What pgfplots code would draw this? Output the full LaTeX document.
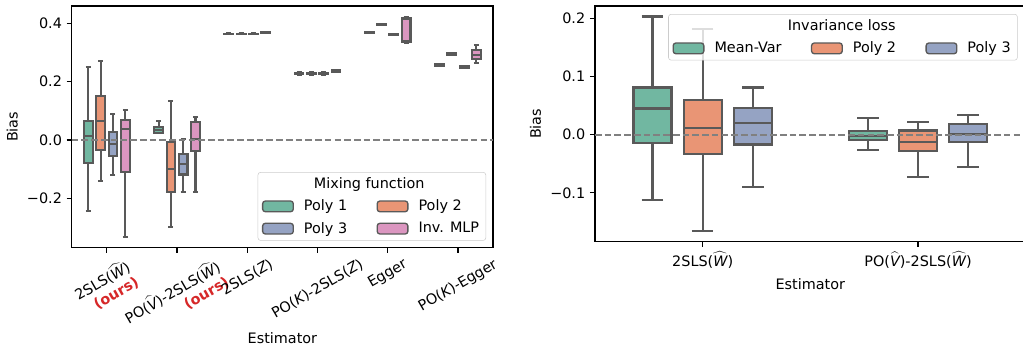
\documentclass[border=0pt]{standalone}
\usepackage{fontspec}
\setmainfont{DejaVu Sans}
\usepackage{graphicx}
\usepackage{xcolor}
\usepackage{pgfplots}
\pgfplotsset{compat=1.18}
\usepgfplotslibrary{statistics}
\definecolor{cA}{HTML}{71B7A1}
\definecolor{cB}{HTML}{E99575}
\definecolor{cC}{HTML}{95A3C3}
\definecolor{cD}{HTML}{DB96C0}
\definecolor{edge}{HTML}{595959}
\definecolor{zeroline}{HTML}{808080}
\definecolor{oursred}{HTML}{D62728}
\definecolor{legframe}{HTML}{CCCCCC}
\newcommand{\hatW}{$\widehat{\mbox{\itshape W}}$}
\newcommand{\hatV}{$\widehat{\mbox{\itshape V}}$}
\newcommand{\itZ}{{\itshape Z}}
\newcommand{\itK}{{\itshape K}}
\newcommand{\ours}{{\color{oursred}\bfseries (ours)}}
% one box: colour, position, lower whisker, lower quartile, median, upper quartile, upper whisker
\newcommand{\bxp}[7]{\addplot[bx, fill=#1, boxplot prepared={draw direction=y, draw position=#2, lower whisker=#3, lower quartile=#4, median=#5, upper quartile=#6, upper whisker=#7}] coordinates {};}

\pgfplotsset{
  common/.style={
    scale only axis,
    tick align=outside, tick pos=left, major tick length=3.8pt,
    every tick/.style={black, line width=0.86pt},
    axis line style={line width=0.9pt},
    font=\fontsize{10.8pt}{12.6pt}\selectfont,
    ticklabel style={font=\fontsize{10.8pt}{12.6pt}\selectfont},
    label style={font=\fontsize{10.8pt}{12.6pt}\selectfont},
    legend cell align=left,
    legend style={draw=legframe, rounded corners=2pt, fill=white, fill opacity=0.8, text opacity=1, draw opacity=1,
      font=\fontsize{10.8pt}{12.6pt}\selectfont, row sep=3.0pt,
      /tikz/every odd column/.append style={column sep=5.5pt},
      /tikz/every even column/.append style={column sep=20pt}},
    boxplot/every whisker/.style={line width=1.6pt, draw=edge},
    boxplot/every median/.style={line width=1.6pt, draw=edge},
    boxplot/every box/.style={line width=1.6pt, draw=edge},
  },
  bx/.style={draw=edge, line width=1.6pt, solid, forget plot},
  patch/.style={draw=edge, fill=#1, line width=1pt,
    legend image code/.code={\draw[##1, fill opacity=1, draw opacity=1] (0pt,-4pt) rectangle (23pt,4pt);}},
}

\begin{document}
\begin{tikzpicture}
\begin{axis}[common,
  at={(53.8pt,-185.8pt)}, anchor=south west,
  width=316pt, height=181.3pt,
  xmin=-0.5, xmax=5.5, ymin=-0.369, ymax=0.459,
  xtick={0,1,2,3,4,5},
  xticklabels={
    {\rotatebox{30}{\begin{tabular}{@{}r@{}}2SLS(\hatW)\\\ours\end{tabular}}},
    {\rotatebox{30}{\begin{tabular}{@{}r@{}}PO(\hatV)-2SLS(\hatW)\\\ours\end{tabular}}},
    {\rotatebox{30}{2SLS(\itZ)}},
    {\rotatebox{30}{PO(\itK)-2SLS(\itZ)}},
    {\rotatebox{30}{Egger}},
    {\rotatebox{30}{PO(\itK)-Egger}}},
  xticklabel style={anchor=north, inner sep=0pt, yshift=-3.5pt},
  ytick={-0.2,0,0.2,0.4}, yticklabels={−0.2,0.0,0.2,0.4},
  xlabel={Estimator}, ylabel={Bias},
  xlabel style={at={(axis description cs:0.5,0)}, anchor=base, yshift=-71.5pt},
  boxplot/box extend=0.124, boxplot/whisker extend=0.071,
  legend columns=2,
  legend style={at={(rel axis cs:0.9834,0.029)}, anchor=south east},
]
% Poly 1
\bxp{cA}{-0.2625}{-0.243}{-0.078}{0.014}{0.066}{0.251}
\bxp{cA}{0.7375}{0.023}{0.024}{0.033}{0.0434}{0.065}
\bxp{cA}{1.7375}{0.3620}{0.3625}{0.3634}{0.3643}{0.3648}
\bxp{cA}{2.7375}{0.2235}{0.2248}{0.2274}{0.2300}{0.2312}
\bxp{cA}{3.7375}{0.3662}{0.3668}{0.3680}{0.3692}{0.3698}
\bxp{cA}{4.7375}{0.2525}{0.2535}{0.2560}{0.2585}{0.2595}
% Poly 2
\bxp{cB}{-0.0875}{-0.139}{-0.033}{0.065}{0.152}{0.272}
\bxp{cB}{0.9125}{-0.297}{-0.178}{-0.1006}{-0.007}{0.135}
\bxp{cB}{1.9125}{0.3620}{0.3625}{0.3634}{0.3643}{0.3648}
\bxp{cB}{2.9125}{0.2235}{0.2248}{0.2274}{0.2300}{0.2312}
\bxp{cB}{3.9125}{0.3930}{0.3938}{0.3950}{0.3962}{0.3970}
\bxp{cB}{4.9125}{0.2915}{0.2925}{0.2948}{0.2971}{0.2981}
% Poly 3
\bxp{cC}{0.0875}{-0.121}{-0.056}{-0.0137}{0.026}{0.089}
\bxp{cC}{1.0875}{-0.179}{-0.118}{-0.083}{-0.048}{0.003}
\bxp{cC}{2.0875}{0.3620}{0.3625}{0.3634}{0.3643}{0.3648}
\bxp{cC}{3.0875}{0.2235}{0.2248}{0.2274}{0.2300}{0.2312}
\bxp{cC}{4.0875}{0.3592}{0.3598}{0.3610}{0.3622}{0.3628}
\bxp{cC}{5.0875}{0.2465}{0.2475}{0.2500}{0.2525}{0.2535}
% Inv. MLP
\bxp{cD}{0.2625}{-0.331}{-0.109}{0.0377}{0.0686}{0.103}
\bxp{cD}{1.2625}{-0.177}{-0.038}{0.002}{0.0606}{0.080}
\bxp{cD}{2.2625}{0.3665}{0.3672}{0.3680}{0.3688}{0.3695}
\bxp{cD}{3.2625}{0.2328}{0.2340}{0.2366}{0.2392}{0.2404}
\bxp{cD}{4.2625}{0.333}{0.3375}{0.415}{0.4175}{0.4217}
\bxp{cD}{5.2625}{0.265}{0.2766}{0.291}{0.3085}{0.3257}
\addplot[zeroline, line width=1.6pt, dash pattern=on 5pt off 2.3pt, forget plot] coordinates {(-0.5,0) (5.5,0)};
\addlegendimage{empty legend}
\addlegendentry{\makebox[0pt][l]{\hspace{7.4pt}Mixing function}}
\addlegendimage{empty legend}
\addlegendentry{\phantom{x}}
\addlegendimage{patch=cA}\addlegendentry{Poly 1}
\addlegendimage{patch=cB}\addlegendentry{Poly 2}
\addlegendimage{patch=cC}\addlegendentry{Poly 3}
\addlegendimage{patch=cD}\addlegendentry{Inv. MLP}
\end{axis}

\begin{axis}[common,
  at={(446.25pt,-181.3pt)}, anchor=south west,
  width=323pt, height=176.8pt,
  xmin=-0.5, xmax=1.5, ymin=-0.184, ymax=0.221,
  xtick={0,1},
  xticklabels={{2SLS(\hatW)},{PO(\hatV)-2SLS(\hatW)}},
  ytick={-0.1,0,0.1,0.2}, yticklabels={−0.1,0.0,0.1,0.2},
  xlabel={Estimator}, ylabel={Bias},
  xlabel style={at={(axis description cs:0.5,0)}, anchor=base, yshift=-35.5pt},
  boxplot/box extend=0.177, boxplot/whisker extend=0.1,
  legend columns=3,
  legend style={at={(rel axis cs:0.9814,0.966)}, anchor=north east},
]
% Mean-Var
\bxp{cA}{-0.233}{-0.113}{-0.015}{0.045}{0.081}{0.203}
\bxp{cA}{0.767}{-0.026}{-0.009}{-0.003}{0.0064}{0.029}
% Poly 2
\bxp{cB}{0}{-0.165}{-0.033}{0.012}{0.060}{0.181}
\bxp{cB}{1}{-0.073}{-0.028}{-0.012}{0.007}{0.021}
% Poly 3
\bxp{cC}{0.233}{-0.090}{-0.017}{0.020}{0.046}{0.081}
\bxp{cC}{1.233}{-0.056}{-0.0125}{0.0017}{0.019}{0.034}
\addplot[zeroline, line width=1.6pt, dash pattern=on 5pt off 2.3pt, forget plot] coordinates {(-0.5,0) (1.5,0)};
\addlegendimage{empty legend}
\addlegendentry{\makebox[0pt][l]{\hspace{55pt}Invariance loss}}
\addlegendimage{empty legend}
\addlegendentry{\phantom{x}}
\addlegendimage{empty legend}
\addlegendentry{\phantom{x}}
\addlegendimage{patch=cA}\addlegendentry{Mean-Var}
\addlegendimage{patch=cB}\addlegendentry{Poly 2}
\addlegendimage{patch=cC}\addlegendentry{Poly 3}
\end{axis}
\pgfresetboundingbox
\path[use as bounding box] (0pt,0pt) rectangle (767.25pt,-259.5pt);
\end{tikzpicture}
\end{document}
